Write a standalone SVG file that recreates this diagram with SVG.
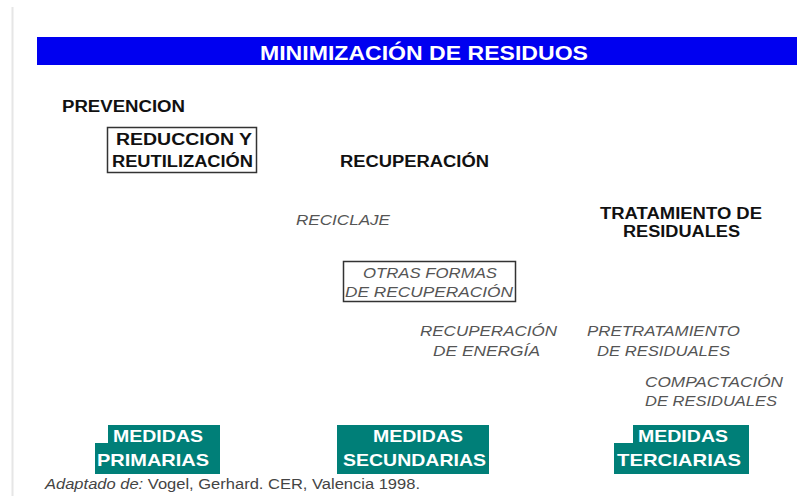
<svg xmlns="http://www.w3.org/2000/svg" width="797" height="496" viewBox="0 0 797 496">
<style>
text{font-family:"Liberation Sans",Arial,sans-serif;lengthAdjust:spacingAndGlyphs}
.b{font-weight:bold;fill:#111;font-size:16px}
.i{font-style:italic;fill:#555;font-size:15px}
.w{font-weight:bold;fill:#fff;font-size:17px}
.box{fill:#fff;stroke:#333;stroke-width:1.5}
.teal{fill:#007f78}
</style>
<rect width="797" height="496" fill="#fff"/>
<line x1="12.5" y1="7" x2="12.5" y2="496" stroke="#e6e6e6" stroke-width="2"/>
<g id="title">
<rect x="37" y="37" width="760" height="28" fill="#0000f0"/>
<text x="260" y="60" class="w" style="font-size:21px" textLength="328" lengthAdjust="spacingAndGlyphs">MINIMIZACIÓN DE RESIDUOS</text>
</g>
<g id="prevencion"><text x="62" y="112" class="b" textLength="123" lengthAdjust="spacingAndGlyphs">PREVENCION</text></g>
<g id="reduccion">
<rect x="107.5" y="127.5" width="149" height="45" class="box"/>
<text x="116" y="145" class="b" textLength="136" lengthAdjust="spacingAndGlyphs">REDUCCION Y</text>
<text x="112" y="167" class="b" textLength="141" lengthAdjust="spacingAndGlyphs">REUTILIZACIÓN</text>
</g>
<g id="recuperacion"><text x="340" y="167" class="b" textLength="149" lengthAdjust="spacingAndGlyphs">RECUPERACIÓN</text></g>
<g id="reciclaje"><text x="296" y="225" class="i" textLength="94" lengthAdjust="spacingAndGlyphs">RECICLAJE</text></g>
<g id="tratamiento">
<text x="600" y="219" class="b" textLength="162" lengthAdjust="spacingAndGlyphs">TRATAMIENTO DE</text>
<text x="623" y="237" class="b" textLength="117" lengthAdjust="spacingAndGlyphs">RESIDUALES</text>
</g>
<g id="otras">
<rect x="343.5" y="261.5" width="172" height="40" class="box"/>
<text x="363" y="278" class="i" textLength="134" lengthAdjust="spacingAndGlyphs">OTRAS FORMAS</text>
<text x="345" y="297" class="i" textLength="168" lengthAdjust="spacingAndGlyphs">DE RECUPERACIÓN</text>
</g>
<g id="energia">
<text x="420" y="336" class="i" textLength="137" lengthAdjust="spacingAndGlyphs">RECUPERACIÓN</text>
<text x="433" y="356" class="i" textLength="107" lengthAdjust="spacingAndGlyphs">DE ENERGÍA</text>
</g>
<g id="pretratamiento">
<text x="587" y="336" class="i" textLength="153" lengthAdjust="spacingAndGlyphs">PRETRATAMIENTO</text>
<text x="597" y="356" class="i" textLength="133" lengthAdjust="spacingAndGlyphs">DE RESIDUALES</text>
</g>
<g id="compactacion">
<text x="645" y="387" class="i" textLength="138" lengthAdjust="spacingAndGlyphs">COMPACTACIÓN</text>
<text x="645" y="406" class="i" textLength="132" lengthAdjust="spacingAndGlyphs">DE RESIDUALES</text>
</g>
<g id="primarias">
<path d="M108 425H220V474H95V443H108Z" class="teal"/>
<text x="113" y="442" class="w" textLength="90" lengthAdjust="spacingAndGlyphs">MEDIDAS</text>
<text x="97" y="466" class="w" textLength="112" lengthAdjust="spacingAndGlyphs">PRIMARIAS</text>
</g>
<g id="secundarias">
<rect x="337" y="425" width="152" height="49" class="teal"/>
<text x="373" y="442" class="w" textLength="90" lengthAdjust="spacingAndGlyphs">MEDIDAS</text>
<text x="343" y="466" class="w" textLength="143" lengthAdjust="spacingAndGlyphs">SECUNDARIAS</text>
</g>
<g id="terciarias">
<path d="M633 425H749V474H614V443H633Z" class="teal"/>
<text x="638" y="442" class="w" textLength="90" lengthAdjust="spacingAndGlyphs">MEDIDAS</text>
<text x="617" y="466" class="w" textLength="124" lengthAdjust="spacingAndGlyphs">TERCIARIAS</text>
</g>
<g id="connectors"/>
<text x="45" y="489" font-size="14" fill="#444" textLength="375" lengthAdjust="spacingAndGlyphs"><tspan font-style="italic">Adaptado de:</tspan> Vogel, Gerhard. CER, Valencia 1998.</text>
</svg>
